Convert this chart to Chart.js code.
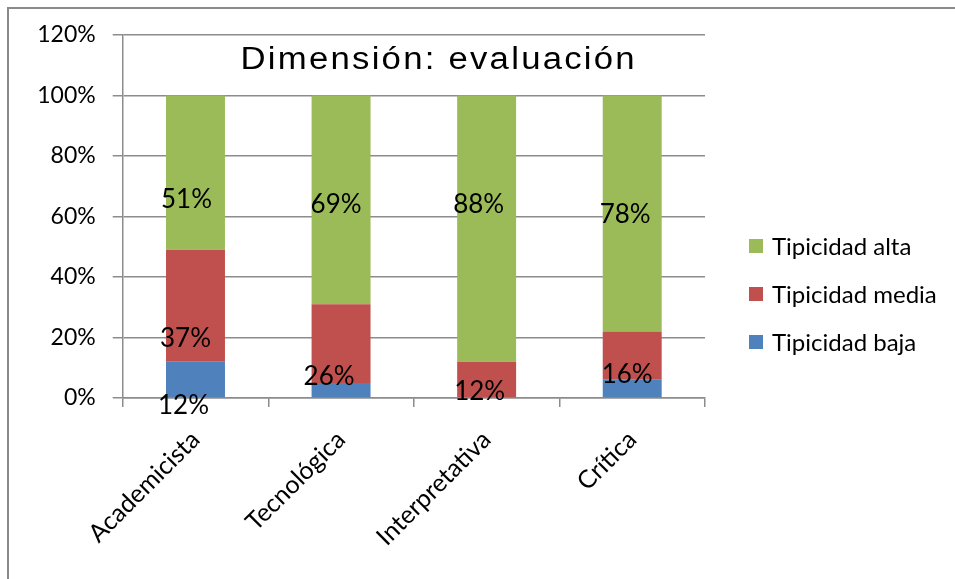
<!DOCTYPE html>
<html>
<head>
<meta charset="utf-8">
<script src="https://cdn.jsdelivr.net/npm/chart.js@4"></script>
<style>
  html, body { margin: 0; padding: 0; background: #ffffff; }
  #wrap { position: relative; width: 955px; height: 579px; }
</style>
</head>
<body>
<div id="wrap"><canvas id="chart" width="955" height="579"></canvas></div>
<script>
// Categories and series (percent of each group)
const categories = ['Academicista', 'Tecnológica', 'Interpretativa', 'Crítica'];
const tipicidadBaja  = [12, 5, 0, 6];
const tipicidadMedia = [37, 26, 12, 16];
const tipicidadAlta  = [51, 69, 88, 78];
const seriesNames = ['Tipicidad baja', 'Tipicidad media', 'Tipicidad alta'];
const titleText = 'Dimensión: evaluación';

// Where each value label sits, as a pixel shift from the middle of its segment
// (null = no label for that segment)
const labelShift = [
  [[-12, 26], null, null, null],
  [[-10, 33], [-12, 33], [-7, 12], [-5, 19]],
  [[-9, 27], [-5, 5], [-8, -24], [-7, 1]]
];

const GRID = '#8c8c8c';
const FONT = 'Lato, "Open Sans", sans-serif';

const frame = {
  id: 'frame',
  beforeDraw(chart) {
    const c = chart.ctx;
    c.save();
    c.strokeStyle = '#8a8a8a';
    c.lineWidth = 2;
    c.beginPath();
    c.moveTo(8, chart.height);
    c.lineTo(8, 8);
    c.lineTo(chart.width, 8);
    c.stroke();
    c.restore();
  }
};

const extras = {
  id: 'extras',
  afterDatasetsDraw(chart) {
    const c = chart.ctx;
    c.save();
    c.fillStyle = '#000';
    c.textAlign = 'center';
    c.textBaseline = 'middle';
    c.font = '26px ' + FONT;
    chart.data.datasets.forEach((ds, di) => {
      const meta = chart.getDatasetMeta(di);
      meta.data.forEach((bar, i) => {
        const s = labelShift[di][i];
        if (!s) return;
        const cy = (bar.y + bar.base) / 2;
        c.fillText(ds.data[i] + '%', bar.x + s[0], cy + s[1]);
      });
    });
    c.restore();
  },
  afterDraw(chart) {
    const c = chart.ctx;
    const area = chart.chartArea;
    c.save();
    // title inside the plot, between the two top gridlines (slightly widened lettering)
    c.fillStyle = '#000';
    c.font = '31px "Liberation Sans", Arial, sans-serif';
    c.letterSpacing = '2px';
    c.textAlign = 'center';
    c.textBaseline = 'middle';
    c.translate(area.left + 316, area.top + 25);
    c.scale(1.12, 1);
    c.fillText(titleText, 0, 0);
    c.setTransform(1, 0, 0, 1, 0, 0);
    c.letterSpacing = '0px';
    // legend, top to bottom in reverse stacking order
    c.font = '24px ' + FONT;
    c.textAlign = 'left';
    const n = chart.data.datasets.length;
    for (let k = 0; k < n; k++) {
      const ds = chart.data.datasets[n - 1 - k];
      const y = 246 + k * 48;
      c.fillStyle = ds.backgroundColor;
      c.fillRect(749, y - 7, 14, 14);
      c.fillStyle = '#000';
      c.fillText(ds.label, 772, y + 1);
    }
    c.restore();
  }
};

new Chart(document.getElementById('chart'), {
  type: 'bar',
  data: {
    labels: categories,
    datasets: [
      { label: seriesNames[0], data: tipicidadBaja,  backgroundColor: '#4F81BD' },
      { label: seriesNames[1], data: tipicidadMedia, backgroundColor: '#C0504D' },
      { label: seriesNames[2], data: tipicidadAlta,  backgroundColor: '#9BBB59' }
    ]
  },
  options: {
    responsive: false,
    animation: false,
    devicePixelRatio: 1,
    layout: { padding: { left: 0, top: 35, right: 250, bottom: 0 } },
    plugins: { legend: { display: false }, title: { display: false }, tooltip: { enabled: false } },
    datasets: { bar: { categoryPercentage: 1, barPercentage: 0.405, borderWidth: 0 } },
    scales: {
      x: {
        stacked: true,
        offset: true,
        grid: { offset: true, drawOnChartArea: false, drawTicks: true, tickLength: 9, color: GRID, lineWidth: 1.5 },
        border: { display: true, color: GRID, width: 1.5 },
        ticks: { color: '#000', font: { family: FONT, size: 25 }, minRotation: 45, maxRotation: 45, padding: 18, autoSkip: false },
        afterFit(scale) { scale.height = 181; }
      },
      y: {
        stacked: true,
        min: 0, max: 120,
        grid: { color: GRID, lineWidth: 1.5, tickLength: 10, drawTicks: true },
        border: { display: true, color: GRID, width: 1.5 },
        ticks: { stepSize: 20, color: '#000', font: { family: FONT, size: 23 }, padding: 17, callback: v => v + '%' },
        afterFit(scale) { scale.width = 122.7; }
      }
    }
  },
  plugins: [frame, extras]
});
</script>
</body>
</html>
